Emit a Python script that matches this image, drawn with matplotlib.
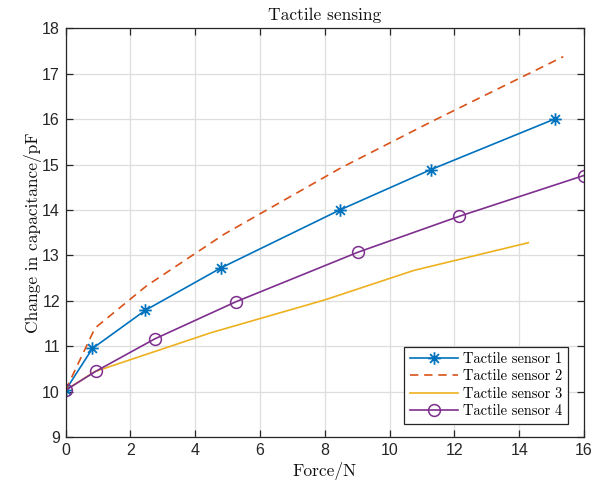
import matplotlib
matplotlib.use("Agg")
import matplotlib.pyplot as plt
from matplotlib.path import Path

force1 = [0, 0.83, 2.46, 4.81, 8.46, 11.27, 15.11]
cap1 = [10.03, 10.95, 11.79, 12.73, 14.00, 14.89, 16.01]

force2 = [0, 0.91, 2.5, 4.9, 8.5, 11.3, 15.36]
cap2 = [10.03, 11.40, 12.33, 13.47, 14.93, 15.95, 17.38]

force3 = [0, 0.9, 4.5, 8.0, 10.75, 14.28]
cap3 = [10.03, 10.44, 11.30, 12.02, 12.67, 13.28]

force4 = [0, 0.94, 2.75, 5.26, 9.02, 12.14, 15.99]
cap4 = [10.03, 10.45, 11.16, 11.98, 13.07, 13.86, 14.76]

labels = ['Tactile sensor 1', 'Tactile sensor 2', 'Tactile sensor 3', 'Tactile sensor 4']
xticks = list(range(0, 17, 2))
yticks = list(range(9, 19))

# MATLAB-style asterisk marker ('+' and 'x' combined)
d = 0.7071
verts = [(-1, 0), (1, 0), (0, -1), (0, 1), (-d, -d), (d, d), (-d, d), (d, -d)]
codes = [Path.MOVETO, Path.LINETO] * 4
asterisk = Path(verts, codes)

serif = 'cmr10'

fig = plt.figure(figsize=(6.09, 4.87), dpi=100)
ax = fig.add_axes([0.1076, 0.1027, 0.8514, 0.8388])

lw = 1.2
ax.plot(force1, cap1, color='#0072BD', lw=lw, marker=asterisk, ms=9, mew=1.3, label=labels[0])
ax.plot(force2, cap2, color='#D95319', lw=lw, ls=(0, (5, 3.5)), label=labels[1])
ax.plot(force3, cap3, color='#EDB120', lw=lw, label=labels[2])
ax.plot(force4, cap4, color='#7E2F8E', lw=lw, marker='o', ms=8.5, mfc='none', mew=1.1, label=labels[3])

ax.set_xlim(0, 16)
ax.set_ylim(9, 18)
ax.set_xticks(xticks)
ax.set_yticks(yticks)
ax.grid(True, color='#dedede', lw=0.9)
ax.set_axisbelow(True)
for s in ax.spines.values():
    s.set_color('#262626')
    s.set_linewidth(0.9)
ax.tick_params(direction='in', top=True, right=True, length=5, width=0.9,
               color='#262626', labelcolor='#262626', labelsize=11.5, pad=4)
for t in ax.get_xticklabels() + ax.get_yticklabels():
    t.set_fontfamily('Liberation Sans')

ax.set_title('Tactile sensing', fontsize=12.5, pad=6, color='#111111', fontfamily=serif)
ax.set_xlabel('Force/N', fontsize=12.5, labelpad=3, color='#111111', fontfamily=serif)
ax.text(-0.063, 0.5, 'Change in capacitance/pF', transform=ax.transAxes,
        rotation=90, ha='center', va='center', rotation_mode='anchor',
        fontsize=12.5, color='#111111', fontfamily=serif)

leg = ax.legend(loc='lower right', bbox_to_anchor=(0.9695, 0.032),
                prop={'family': serif, 'size': 10.4},
                fancybox=False, framealpha=1, edgecolor='#262626',
                borderpad=0.4, labelspacing=0.25, handlelength=3.3,
                handletextpad=0.38, borderaxespad=0)
leg.get_frame().set_linewidth(0.9)

fig.savefig('out.png', dpi=100)
